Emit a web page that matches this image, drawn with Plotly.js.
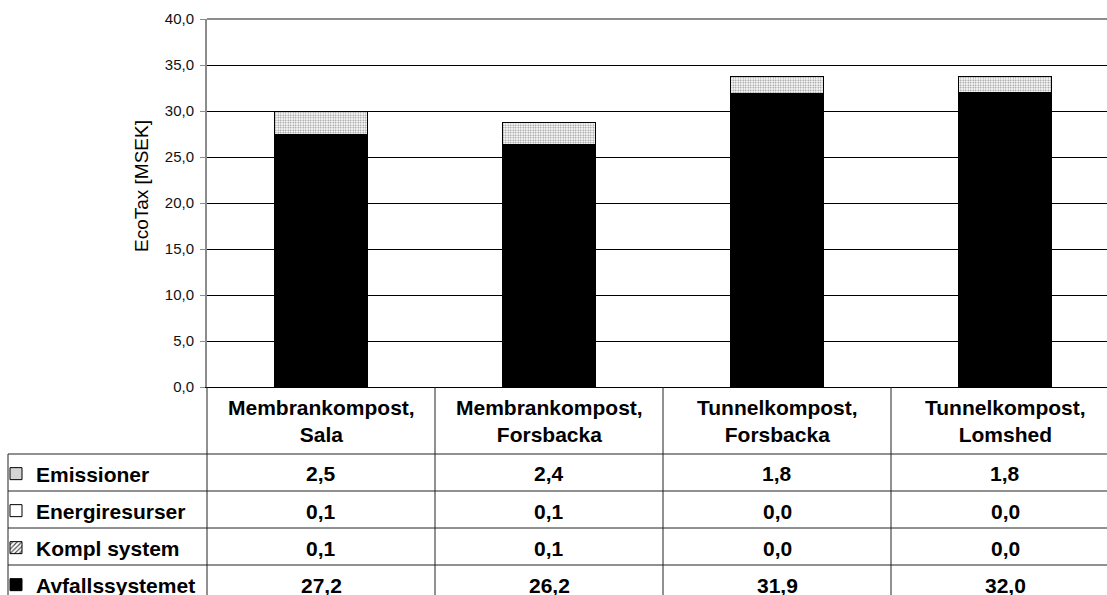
<!DOCTYPE html>
<html>
<head>
<meta charset="utf-8">
<script src="https://cdn.plot.ly/plotly-3.0.1.min.js"></script>
<style>
html,body{margin:0;padding:0;background:#fff;overflow:hidden;}
#chart{width:1107px;height:595px;}
</style>
</head>
<body>
<div id="chart"></div>
<script>
// ---- data ----
const categories = ['Membrankompost,<br>Sala', 'Membrankompost,<br>Forsbacka', 'Tunnelkompost,<br>Forsbacka', 'Tunnelkompost,<br>Lomshed'];
const seriesNames = ['Emissioner', 'Energiresurser', 'Kompl system', 'Avfallssystemet'];
const emissioner = [2.5, 2.4, 1.8, 1.8];
const energiresurser = [0.1, 0.1, 0.0, 0.0];
const komplSystem = [0.1, 0.1, 0.0, 0.0];
const avfallssystemet = [27.2, 26.2, 31.9, 32.0];
const yTickValues = [0, 5, 10, 15, 20, 25, 30, 35, 40];
const yTitle = 'EcoTax [MSEK]';

// ---- layout constants (pixels) ----
const W = 1107, H = 595;
const L = 207, T = 19, PLOT_H = 368, PLOT_W = W - L;
const COL_W = 228;
const B = H - T - PLOT_H;
const FONT = 'Liberation Sans, Arial, Helvetica, sans-serif';
const py = p => (T + PLOT_H - p) / PLOT_H;   // pixel y -> paper y
const px = p => (p - L) / PLOT_W;            // pixel x -> paper x

const xIdx = categories.map((_, i) => i);
const fmt = v => v.toFixed(1).replace('.', ',');

const seriesData = {
  'Emissioner': emissioner,
  'Energiresurser': energiresurser,
  'Kompl system': komplSystem,
  'Avfallssystemet': avfallssystemet
};
const seriesStyle = {
  'Avfallssystemet': {color: '#000000'},
  'Kompl system': {color: '#ffffff', pattern: {shape: '/', fgcolor: '#444444', bgcolor: '#ffffff', size: 4, solidity: 0.35}},
  'Energiresurser': {color: '#ffffff'},
  'Emissioner': {color: '#ffffff', pattern: {shape: '.', fgcolor: '#8a8a8a', bgcolor: '#ffffff', size: 2.5, solidity: 0.35}}
};
const rowCenters = [474, 511, 548, 585];
const legendIds = ['legend', 'legend2', 'legend3', 'legend4'];

const stackOrder = ['Avfallssystemet', 'Kompl system', 'Energiresurser', 'Emissioner'];
const traces = stackOrder.map(name => {
  const st = seriesStyle[name];
  const li = seriesNames.indexOf(name);
  const marker = {color: st.color, line: {color: '#000', width: 1}};
  if (st.pattern) marker.pattern = st.pattern;
  return {
    type: 'bar', name: name, x: xIdx, y: seriesData[name],
    marker: marker, width: 0.41, legend: legendIds[li],
    hoverinfo: 'name+y'
  };
});

const TBL_FONT = {family: FONT, size: 21, color: '#000', weight: 'bold'};
const annotations = [];
categories.forEach((c, i) => {
  annotations.push({
    xref: 'x', yref: 'paper', x: i, y: py(421), text: c, showarrow: false,
    xanchor: 'center', yanchor: 'middle', align: 'center', font: TBL_FONT
  });
});
seriesNames.forEach((s, r) => {
  seriesData[s].forEach((v, i) => {
    annotations.push({
      xref: 'x', yref: 'paper', x: i, y: py(rowCenters[r]), text: fmt(v), showarrow: false,
      xanchor: 'center', yanchor: 'middle', font: TBL_FONT
    });
  });
});
// y axis title
annotations.push({
  xref: 'paper', yref: 'paper', x: px(141), y: py(186), text: yTitle, showarrow: false,
  textangle: -90, xanchor: 'center', yanchor: 'middle',
  font: {family: FONT, size: 19, color: '#000'}
});

const shapes = [];
const lineC = '#222';
shapes.push({type: 'line', xref: 'paper', yref: 'paper', x0: 0, x1: 1, y0: 1, y1: 1, line: {color: '#8c8c8c', width: 2}});
[454, 491, 528, 565].forEach(p => {
  shapes.push({type: 'line', xref: 'paper', yref: 'paper', x0: px(8), x1: 1.01, y0: py(p), y1: py(p), line: {color: lineC, width: 1}});
});
shapes.push({type: 'line', xref: 'paper', yref: 'paper', x0: px(8), x1: px(8), y0: py(454), y1: py(600), line: {color: lineC, width: 1}});
shapes.push({type: 'line', xref: 'paper', yref: 'paper', x0: 0, x1: 0, y0: 0, y1: py(600), line: {color: lineC, width: 1}});
[0.5, 1.5, 2.5].forEach(xv => {
  shapes.push({type: 'line', xref: 'x', yref: 'paper', x0: xv, x1: xv, y0: 0, y1: py(600), line: {color: lineC, width: 1}});
});

const layout = {
  width: W, height: H,
  margin: {l: L, r: 0, t: T, b: B, pad: 0, autoexpand: false},
  paper_bgcolor: '#fff', plot_bgcolor: '#fff',
  barmode: 'stack',
  separators: ',.',
  font: {family: FONT, color: '#000'},
  xaxis: {
    range: [-0.5, -0.5 + PLOT_W / COL_W], showticklabels: false, ticks: '',
    showgrid: false, zeroline: false, showline: true, linecolor: '#000', linewidth: 1, fixedrange: true
  },
  yaxis: {
    range: [0, 40], tickvals: yTickValues, ticktext: yTickValues.map(fmt),
    showgrid: true, gridcolor: '#000', gridwidth: 1,
    zeroline: false, showline: true, linecolor: '#8c8c8c', linewidth: 2,
    ticks: 'outside', ticklen: 5, tickcolor: '#8c8c8c', tickwidth: 1,
    ticklabelstandoff: 3,
    tickfont: {family: FONT, size: 15, color: '#111'},
    fixedrange: true
  },
  annotations: annotations,
  shapes: shapes,
  showlegend: true
};
legendIds.forEach((id, r) => {
  layout[id] = {
    x: px(-4), xanchor: 'left', y: py(rowCenters[r]), yanchor: 'middle',
    xref: 'paper', yref: 'paper',
    bgcolor: 'rgba(0,0,0,0)', borderwidth: 0,
    font: TBL_FONT, itemwidth: 30, tracegroupgap: 0
  };
});

Plotly.newPlot('chart', traces, layout, {displayModeBar: false, staticPlot: true});
</script>
</body>
</html>
